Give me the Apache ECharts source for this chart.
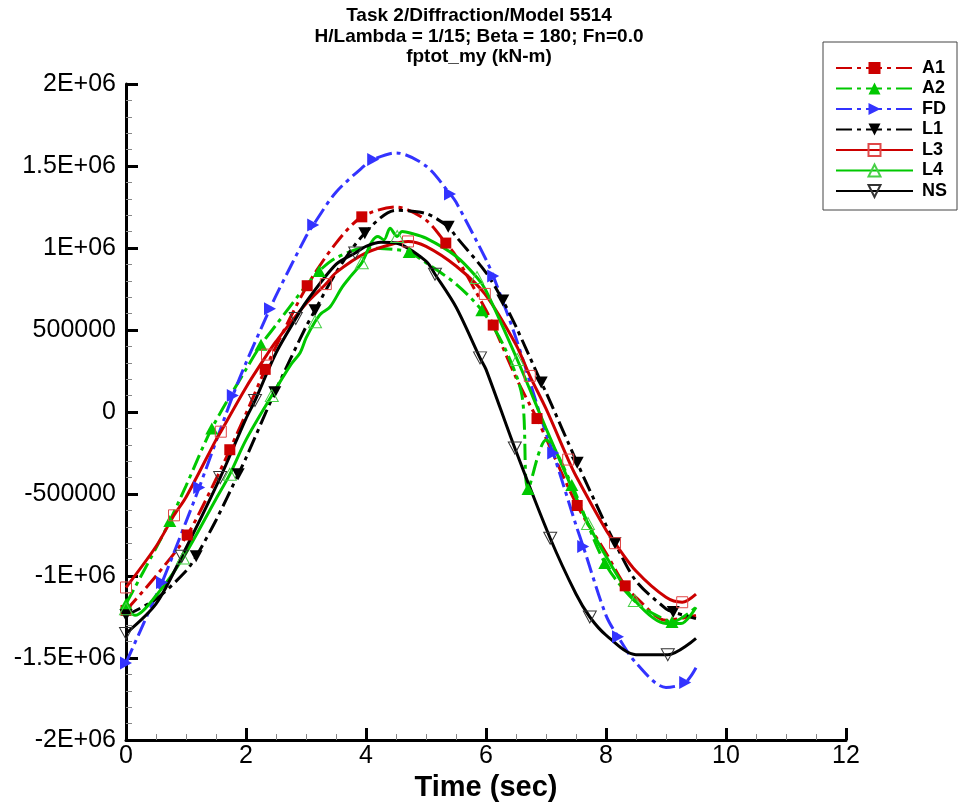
<!DOCTYPE html>
<html><head><meta charset="utf-8">
<script src="https://cdn.jsdelivr.net/npm/echarts@6/dist/echarts.min.js"></script>
<style>html,body{margin:0;padding:0;background:#fff}#c{width:958px;height:805px}</style>
</head><body><div id="c"></div>
<script>
const titleLines = ['Task 2/Diffraction/Model 5514', 'H/Lambda = 1/15; Beta = 180; Fn=0.0', 'fptot_my (kN-m)'];
const xName = 'Time (sec)';
const xTickValues = [0, 2, 4, 6, 8, 10, 12];
const xTickLabels = ['0', '2', '4', '6', '8', '10', '12'];
const yTickValues = [-2e6, -1.5e6, -1e6, -5e5, 0, 5e5, 1e6, 1.5e6, 2e6];
const yTickLabels = ['-2E+06', '-1.5E+06', '-1E+06', '-500000', '0', '500000', '1E+06', '1.5E+06', '2E+06'];
const seriesNames = ['A1', 'A2', 'FD', 'L1', 'L3', 'L4', 'NS'];
const valueScale = 1e6; // values below are in units of 1E+06 kN-m

// [time, value] points along each curve
const A1_line = [[0.5,-1.00],[1.0,-0.76],[1.5,-0.41],[2.0,-0.01],[2.5,0.40],[3.0,0.76],[3.5,1.03],[4.0,1.21],[4.5,1.25],[5.0,1.17],[5.5,0.95],[6.0,0.62],[6.5,0.21],[6.75,0.03],[7.0,-0.16],[7.5,-0.55],[8.0,-0.86],[8.5,-1.13],[9.0,-1.27],[9.5,-1.24]];
const A1_marks = [[0,-1.21],[1.02,-0.75],[1.73,-0.23],[2.32,0.26],[3.02,0.77],[3.93,1.19],[5.33,1.03],[6.12,0.53],[6.85,-0.04],[7.52,-0.57],[8.32,-1.06]];

const A2_line = [[0.5,-0.83],[1.0,-0.45],[1.5,-0.05],[2.0,0.26],[2.5,0.53],[3.0,0.77],[3.5,0.94],[4.0,1.00],[4.5,0.99],[5.0,0.91],[5.5,0.78],[6.0,0.58],[6.3,0.40],[6.6,0.10],[6.66,0.06],[6.74,0.00],[7.0,-0.17],[7.5,-0.50],[8.0,-0.93],[8.5,-1.16],[9.0,-1.27],[9.5,-1.19]];
const A2_marks = [[0,-1.17],[0.73,-0.665],[1.43,-0.10],[2.25,0.41],[3.22,0.86],[4.72,0.975],[5.93,0.62],[6.7,-0.47],[7.43,-0.445],[7.98,-0.92],[9.1,-1.28]];

const FD_line = [[0.5,-1.12],[1.0,-0.67],[1.5,-0.18],[2.0,0.30],[2.5,0.71],[3.0,1.07],[3.5,1.34],[4.0,1.51],[4.5,1.58],[5.0,1.50],[5.5,1.28],[6.0,0.93],[6.5,0.45],[7.0,-0.13],[7.5,-0.69],[8.0,-1.24],[8.5,-1.53],[9.0,-1.68],[9.5,-1.56]];
const FD_marks = [[0,-1.53],[0.6,-1.04],[1.22,-0.46],[1.78,0.10],[2.4,0.63],[3.12,1.14],[4.12,1.54],[5.4,1.33],[6.12,0.83],[7.12,-0.25],[7.62,-0.82],[8.2,-1.37],[9.32,-1.65]];

const L1_line = [[0.5,-1.14],[1.0,-0.97],[1.5,-0.66],[2.0,-0.28],[2.5,0.13],[3.0,0.52],[3.5,0.85],[4.0,1.10],[4.5,1.23],[5.0,1.21],[5.5,1.07],[6.0,0.85],[6.5,0.52],[7.0,0.12],[7.5,-0.29],[8.0,-0.69],[8.5,-1.03],[9.0,-1.20],[9.5,-1.26]];
const L1_marks = [[0,-1.24],[1.17,-0.88],[1.87,-0.38],[2.48,0.12],[3.15,0.62],[3.98,1.09],[5.37,1.13],[6.28,0.68],[6.92,0.18],[7.52,-0.31],[8.15,-0.80],[9.12,-1.22]];

const L3_line = [[0.5,-0.82],[1.0,-0.52],[1.5,-0.17],[2.0,0.15],[2.5,0.43],[3.0,0.66],[3.5,0.85],[4.0,0.97],[4.5,1.03],[5.0,1.01],[5.5,0.89],[6.0,0.71],[6.5,0.41],[7.0,0.02],[7.5,-0.39],[8.0,-0.72],[8.5,-0.97],[9.0,-1.13],[9.5,-1.11]];
const L3_marks = [[0,-1.07],[0.8,-0.63],[1.58,-0.12],[2.35,0.35],[3.33,0.78],[4.7,1.04],[5.98,0.72],[6.73,0.22],[7.37,-0.29],[8.15,-0.80],[9.27,-1.16]];

const L4_line = [[0.15,-1.24],[0.5,-1.12],[1.0,-0.86],[1.5,-0.53],[2.0,-0.17],[2.5,0.15],[2.75,0.29],[2.9,0.36],[3.0,0.45],[3.25,0.60],[3.4,0.64],[3.6,0.76],[3.75,0.83],[4.1,1.04],[4.2,1.07],[4.3,1.05],[4.4,1.12],[4.6,1.10],[4.75,1.09],[5.0,1.06],[5.5,0.95],[6.0,0.74],[7.0,-0.10],[7.5,-0.52],[8.0,-0.88],[9.0,-1.29],[9.25,-1.29],[9.5,-1.19]];
const L4_marks = [[0,-1.20],[0.95,-0.89],[1.73,-0.38],[2.43,0.10],[3.15,0.55],[3.93,0.91],[4.52,1.07],[5.85,0.82],[6.52,0.32],[7.7,-0.68],[8.48,-1.15]];

const NS_line = [[0.5,-1.17],[1.0,-0.85],[1.5,-0.45],[2.0,-0.04],[2.5,0.36],[3.0,0.67],[3.5,0.90],[4.0,1.01],[4.25,1.035],[4.5,1.03],[5.0,0.92],[5.5,0.64],[6.0,0.26],[7.0,-0.72],[7.5,-1.11],[8.0,-1.36],[8.5,-1.48],[9.5,-1.38]];
const NS_marks = [[0,-1.35],[0.93,-0.88],[1.57,-0.40],[2.15,0.07],[2.83,0.57],[3.82,0.97],[5.15,0.84],[5.9,0.33],[6.48,-0.22],[7.07,-0.77],[7.73,-1.25],[9.03,-1.48]];

const curveData = {A1:[A1_line,A1_marks], A2:[A2_line,A2_marks], FD:[FD_line,FD_marks], L1:[L1_line,L1_marks], L3:[L3_line,L3_marks], L4:[L4_line,L4_marks], NS:[NS_line,NS_marks]};

// styles
const RED = '#cc0000', GREEN = '#00c800', BLUE = '#3333ff', BLACK = '#000000';
const dashDot = [16, 5, 4, 5];
const styles = {
  A1: {color: RED, dash: dashDot, symbol: 'rect', size: 11, rotate: 0, fill: RED, border: RED, bw: 0},
  A2: {color: GREEN, dash: dashDot, symbol: 'triangle', size: [13,12], rotate: 0, fill: GREEN, border: GREEN, bw: 0},
  FD: {color: BLUE, dash: dashDot, symbol: 'triangle', size: [13,12], rotate: -90, fill: BLUE, border: BLUE, bw: 0},
  L1: {color: BLACK, dash: dashDot, symbol: 'triangle', size: [13,12], rotate: 180, fill: BLACK, border: BLACK, bw: 0},
  L3: {color: RED, dash: 'solid', symbol: 'rect', size: 11, rotate: 0, fill: 'rgba(0,0,0,0)', border: '#e04848', bw: 1},
  L4: {color: GREEN, dash: 'solid', symbol: 'triangle', size: [13,12], rotate: 0, fill: 'rgba(0,0,0,0)', border: '#48d048', bw: 1},
  NS: {color: BLACK, dash: 'solid', symbol: 'triangle', size: [13,12], rotate: 180, fill: 'rgba(0,0,0,0)', border: '#333333', bw: 1}
};

function merge(line, marks) {
  const items = [];
  line.forEach(p => {
    if (!marks.some(m => Math.abs(m[0] - p[0]) < 0.08)) items.push({value: [p[0], p[1] * valueScale], symbol: 'none'});
  });
  marks.forEach(m => items.push({value: [m[0], m[1] * valueScale]}));
  items.sort((a, b) => a.value[0] - b.value[0]);
  return items;
}

const FONT = '"Liberation Sans", Arial, Helvetica, sans-serif';
const series = seriesNames.map(n => {
  const s = styles[n];
  return {
    name: n, type: 'line', smooth: 0.3,
    data: merge(curveData[n][0], curveData[n][1]),
    symbol: s.symbol, symbolSize: s.size, symbolRotate: s.rotate, showSymbol: true,
    color: s.color,
    lineStyle: {color: s.color, width: 3, type: s.dash},
    itemStyle: {color: s.fill, borderColor: s.border, borderWidth: s.bw},
    emphasis: {disabled: true}, animation: false, z: 2
  };
});

const chart = echarts.init(document.getElementById('c'), null, {renderer: 'canvas'});
chart.setOption({
  backgroundColor: '#ffffff',
  animation: false,
  title: {
    text: titleLines.join('\n'), left: 'center', top: 6, padding: 0,
    textStyle: {fontFamily: FONT, fontSize: 19, fontWeight: 'bold', color: '#000', lineHeight: 20.5}
  },
  legend: {
    orient: 'vertical', left: 823, top: 42,
    padding: [17, 10, 10, 12], itemGap: 2.5, itemWidth: 77, itemHeight: 15,
    borderColor: '#444', borderWidth: 1, backgroundColor: '#fff',
    textStyle: {fontFamily: FONT, fontSize: 18, fontWeight: 'bold', color: '#000', padding: [0, 0, 0, 4]},
    data: seriesNames
  },
  grid: {left: 126, right: 112, top: 84, bottom: 65, containLabel: false, outerBoundsMode: 'none'},
  xAxis: {
    type: 'value', min: 0, max: 12, interval: 2,
    name: xName, nameLocation: 'middle', nameGap: 29,
    nameTextStyle: {fontFamily: FONT, fontSize: 29, fontWeight: 'bold', color: '#000'},
    axisLine: {onZero: false, lineStyle: {color: '#000', width: 3}},
    axisTick: {inside: true, length: 12, lineStyle: {color: '#000', width: 3}},
    minorTick: {show: true, splitNumber: 4, length: 6, lineStyle: {color: '#888', width: 1}},
    splitLine: {show: false},
    axisLabel: {fontFamily: FONT, fontSize: 25, color: '#000', margin: 4,
      formatter: v => xTickLabels[xTickValues.indexOf(v)] ?? ''}
  },
  yAxis: {
    type: 'value', min: -2e6, max: 2e6, interval: 5e5,
    axisLine: {onZero: false, lineStyle: {color: '#000', width: 3}},
    axisTick: {inside: true, length: 12, lineStyle: {color: '#000', width: 3}},
    minorTick: {show: true, splitNumber: 5, length: 6, lineStyle: {color: '#888', width: 1}},
    splitLine: {show: false},
    axisLabel: {fontFamily: FONT, fontSize: 25, color: '#000', margin: 10,
      formatter: v => yTickLabels[yTickValues.indexOf(v)] ?? ''}
  },
  series: series
});
</script>
</body></html>
